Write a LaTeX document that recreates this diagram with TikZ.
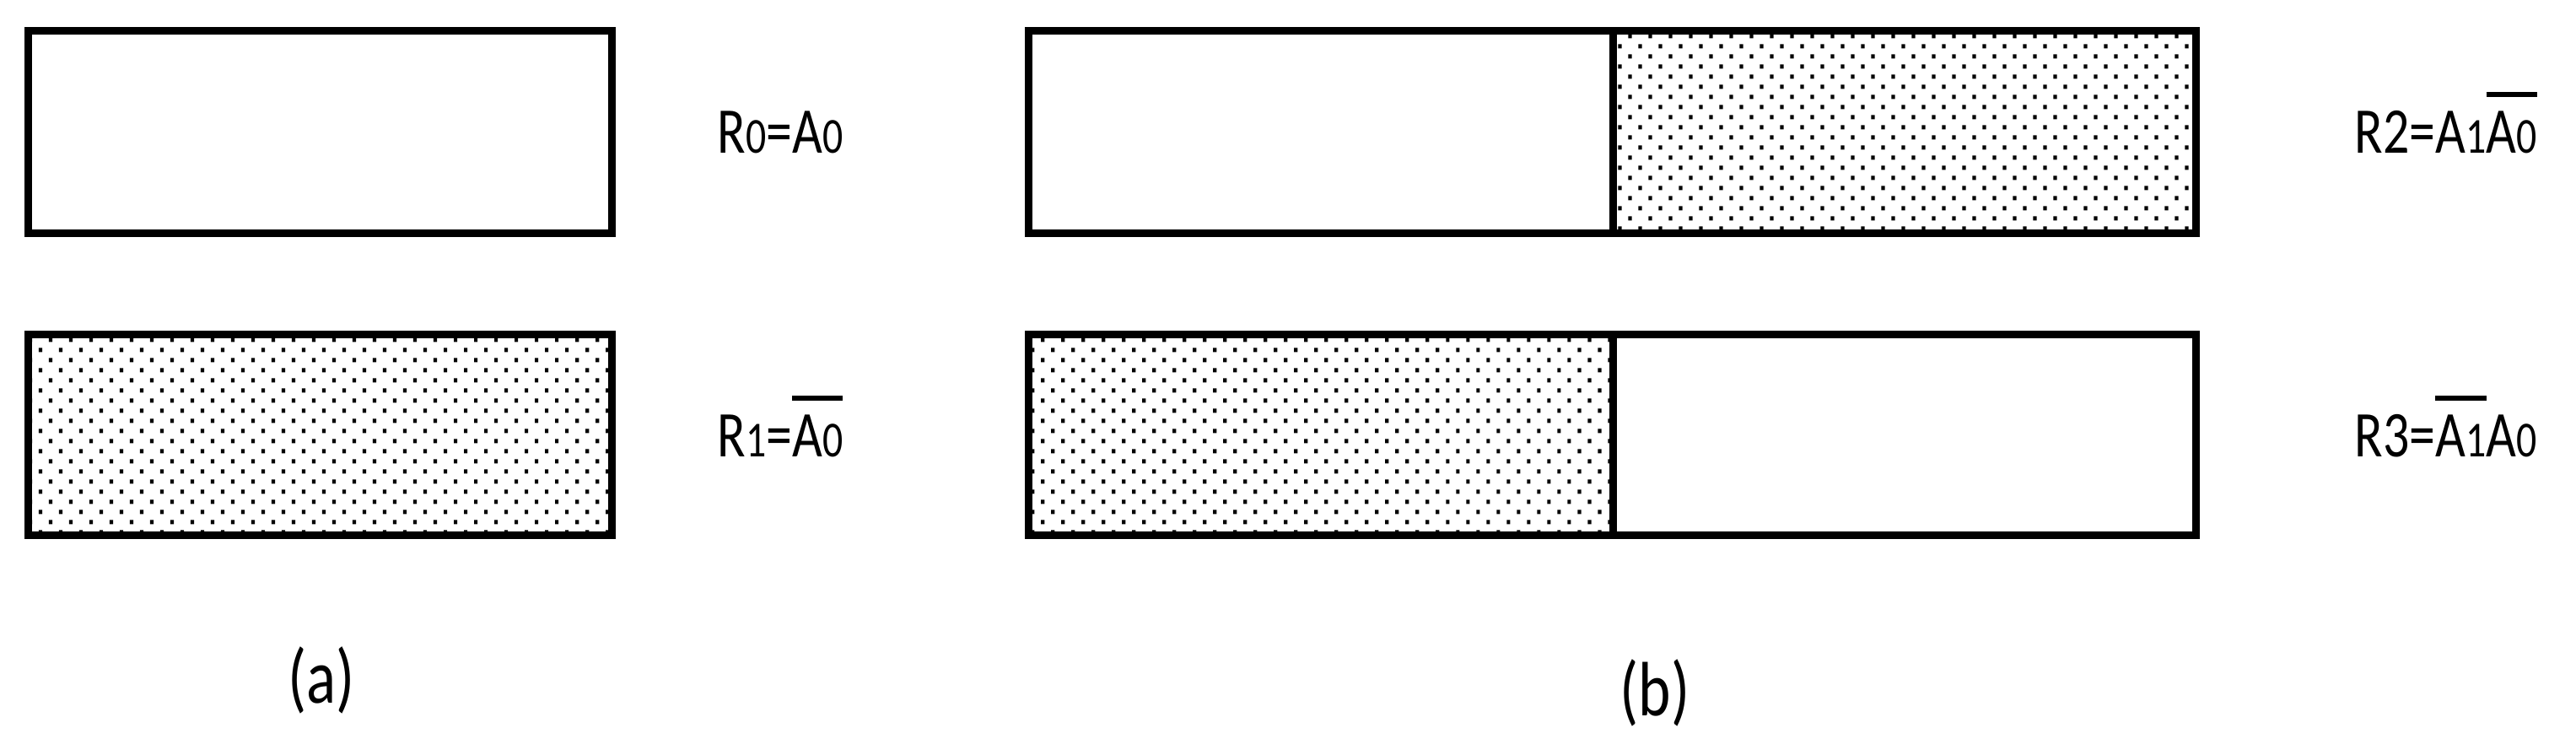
\documentclass[tikz,border=0pt]{standalone}
\usepackage{fontspec}
\setmainfont{Carlito}
\usetikzlibrary{patterns}

\pgfdeclarepatternformonly{fine dots}{\pgfqpoint{-1pt}{-1pt}}{\pgfqpoint{6pt}{6pt}}{\pgfqpoint{6.83pt}{6.83pt}}{%
  \pgfpathrectangle{\pgfqpoint{-0.6pt}{-0.7pt}}{\pgfqpoint{1.2pt}{1.4pt}}%
  \pgfpathrectangle{\pgfqpoint{2.815pt}{2.715pt}}{\pgfqpoint{1.2pt}{1.4pt}}%
  \pgfusepath{fill}}

\newsavebox\notbox
\newcommand{\inv}[1]{\sbox\notbox{#1}\rlap{\raisebox{\dimexpr\ht\notbox+5pt\relax}{\rule{\wd\notbox}{1.7pt}}}\usebox\notbox}
\newcommand{\sd}[1]{{\fontsize{17}{17}\selectfont #1}}
\newcommand{\nar}[1]{\scalebox{0.8}[1]{#1}}

\tikzset{
  box/.style={draw=black,line width=2.56pt},
  lab/.style={anchor=base west,inner sep=0pt,font=\fontsize{22}{26}\selectfont},
  sublabel/.style={inner sep=0pt,font=\fontsize{26}{30}\selectfont}
}

\begin{document}
\begin{tikzpicture}
   \useasboundingbox (0,0) rectangle (30.54,8.95);
   % (a)
   \draw[box] (0.335,6.185) rectangle (7.255,8.585);
   \draw[box,pattern=fine dots] (0.335,2.605) rectangle (7.255,4.985);
   % (b)
   \fill[pattern=fine dots] (19.12,6.185) rectangle (26.035,8.585);
   \draw[box] (12.195,6.185) rectangle (26.035,8.585);
   \draw[box] (19.12,6.185) -- (19.12,8.585);
   \fill[pattern=fine dots] (12.195,2.605) rectangle (19.12,4.985);
   \draw[box] (12.195,2.605) rectangle (26.035,4.985);
   \draw[box] (19.12,2.605) -- (19.12,4.985);
   % labels
   \node[lab] (r0) at ( 8.50,7.13) {\nar{R\sd{0}=A\sd{0}}};
   \node[lab] (r1) at ( 8.50,3.53) {\nar{R\sd{1}=\inv{A\sd{0}}}};
   \node[lab] (r2) at (27.91,7.13) {\nar{R2=A\sd{1}\inv{A\sd{0}}}};
   \node[lab] (r3) at (27.91,3.53) {\nar{R3=\inv{A\sd{1}}A\sd{0}}};
   \node[sublabel] (capa) at ( 3.81,0.89) {\nar{(a)}};
   \node[sublabel] (capb) at (19.62,0.74) {\nar{(b)}};
\end{tikzpicture}
\end{document}
